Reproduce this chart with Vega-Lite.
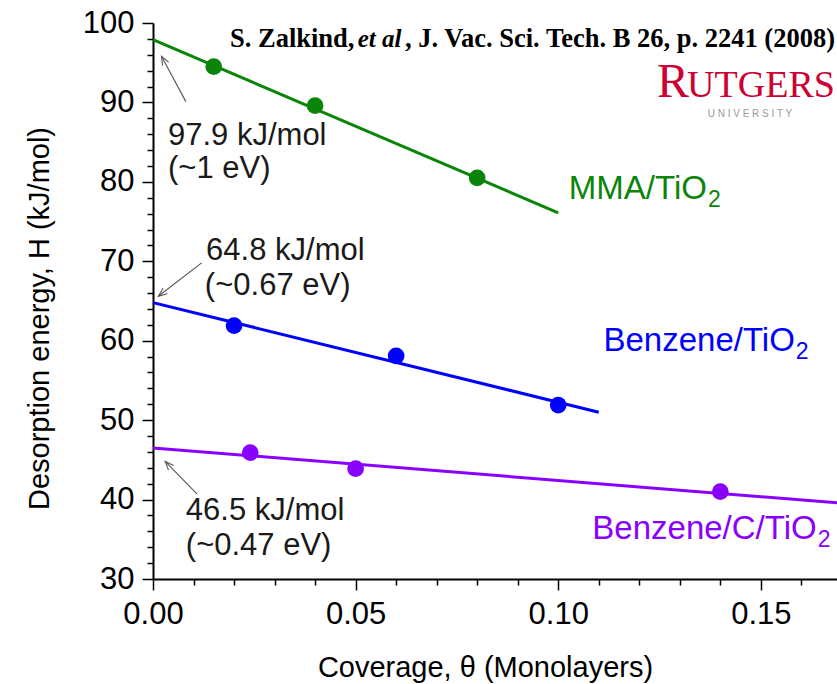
{
  "$schema": "https://vega.github.io/schema/vega-lite/v6.json",
  "width": 684,
  "height": 556,
  "autosize": "none",
  "padding": {"left": 153, "top": 23, "right": 0, "bottom": 105},
  "background": "white",
  "config": {"view": {"stroke": null}, "font": "Liberation Sans"},
  "resolve": {"axis": {"x": "independent", "y": "independent"}},
  "datasets": {
    "fits": [
      {"series": "MMA/TiO2", "coverage": 0, "energy": 97.9},
      {"series": "MMA/TiO2", "coverage": 0.1, "energy": 76.1},
      {"series": "Benzene/TiO2", "coverage": 0, "energy": 64.8},
      {"series": "Benzene/TiO2", "coverage": 0.11, "energy": 51.0},
      {"series": "Benzene/C/TiO2", "coverage": 0, "energy": 46.5},
      {"series": "Benzene/C/TiO2", "coverage": 0.1688, "energy": 39.6}
    ],
    "points": [
      {"series": "MMA/TiO2", "coverage": 0.015, "energy": 94.5},
      {"series": "MMA/TiO2", "coverage": 0.04, "energy": 89.6},
      {"series": "MMA/TiO2", "coverage": 0.08, "energy": 80.5},
      {"series": "Benzene/TiO2", "coverage": 0.02, "energy": 61.9},
      {"series": "Benzene/TiO2", "coverage": 0.06, "energy": 58.1},
      {"series": "Benzene/TiO2", "coverage": 0.1, "energy": 51.9},
      {"series": "Benzene/C/TiO2", "coverage": 0.024, "energy": 45.9},
      {"series": "Benzene/C/TiO2", "coverage": 0.05, "energy": 43.9},
      {"series": "Benzene/C/TiO2", "coverage": 0.14, "energy": 41.0}
    ],
    "notes": [
      {"text": "97.9 kJ/mol", "coverage": 0.0037, "energy": 84.7},
      {"text": "(~1 eV)", "coverage": 0.0037, "energy": 80.5},
      {"text": "64.8 kJ/mol", "coverage": 0.0131, "energy": 70.2},
      {"text": "(~0.67 eV)", "coverage": 0.0128, "energy": 65.7},
      {"text": "46.5 kJ/mol", "coverage": 0.0081, "energy": 37.4},
      {"text": "(~0.47 eV)", "coverage": 0.0081, "energy": 33.0}
    ],
    "arrows": [
      {"coverage": 0.0081, "energy": 90.1, "coverage2": 0.0021, "energy2": 95.8, "angle": 331.6},
      {"coverage": 0.012, "energy": 69.8, "coverage2": 0.0013, "energy2": 65.6, "angle": 232.8},
      {"coverage": 0.0109, "energy": 40.7, "coverage2": 0.003, "energy2": 44.8, "angle": 317}
    ],
    "species": [
      {"series": "MMA/TiO2", "label": "MMA/TiO", "sub": "2", "coverage": 0.1367, "energy": 77.9},
      {"series": "Benzene/TiO2", "label": "Benzene/TiO", "sub": "2", "coverage": 0.1584, "energy": 58.7},
      {"series": "Benzene/C/TiO2", "label": "Benzene/C/TiO", "sub": "2", "coverage": 0.1638, "energy": 35.0}
    ]
  },
  "layer": [
    {
      "data": {"name": "fits"},
      "mark": {"type": "line", "strokeWidth": 3},
      "encoding": {
        "x": {
          "field": "coverage", "type": "quantitative",
          "scale": {"domain": [0, 0.1688], "nice": false, "zero": false},
          "axis": {
            "orient": "bottom",
            "title": "Coverage, θ (Monolayers)",
            "values": [0, 0.05, 0.1, 0.15],
            "format": ".2f",
            "tickSize": 11,
            "labelOverlap": false,
            "labelFlush": false,
            "grid": false,
            "domainColor": "black",
            "domainWidth": 2,
            "tickColor": "black",
            "tickWidth": 1.5,
            "labelFont": "Liberation Sans",
            "labelFontSize": 31,
            "labelColor": "black",
            "labelPadding": 9,
            "titleFont": "Liberation Sans",
            "titleFontSize": 29,
            "titleFontWeight": "normal",
            "titleColor": "black",
            "titleX": 332,
            "titleY": 88,
            "titleBaseline": "middle"
          }
        },
        "y": {
          "field": "energy", "type": "quantitative",
          "scale": {"domain": [30, 100], "nice": false, "zero": false},
          "axis": {
            "orient": "left",
            "title": "Desorption energy, H (kJ/mol)",
            "values": [30, 40, 50, 60, 70, 80, 90, 100],
            "format": "d",
            "tickSize": 11,
            "labelOverlap": false,
            "labelFlush": false,
            "grid": false,
            "domainColor": "black",
            "domainWidth": 2,
            "tickColor": "black",
            "tickWidth": 1.5,
            "labelFont": "Liberation Sans",
            "labelFontSize": 31,
            "labelColor": "black",
            "labelPadding": 8,
            "titleFont": "Liberation Sans",
            "titleFontSize": 29,
            "titleFontWeight": "normal",
            "titleColor": "black",
            "titleX": -114,
            "titleY": 295,
            "titleBaseline": "middle",
            "titleAlign": "center"
          }
        },
        "color": {
          "field": "series", "type": "nominal",
          "scale": {"domain": ["MMA/TiO2", "Benzene/TiO2", "Benzene/C/TiO2"], "range": ["#0a850a", "#0000ff", "#8a00ff"]},
          "legend": null
        }
      }
    },
    {
      "data": {"name": "points"},
      "mark": {"type": "circle", "size": 280, "opacity": 1},
      "encoding": {
        "x": {
          "field": "coverage", "type": "quantitative",
          "axis": {
            "orient": "bottom",
            "title": null,
            "values": [0.01, 0.02, 0.03, 0.04, 0.06, 0.07, 0.08, 0.09, 0.11, 0.12, 0.13, 0.14, 0.16],
            "tickCount": 100,
            "labels": false,
            "domain": false,
            "grid": false,
            "ticks": true,
            "tickSize": 6,
            "tickColor": "black",
            "tickWidth": 1.5
          }
        },
        "y": {
          "field": "energy", "type": "quantitative",
          "axis": {
            "orient": "left",
            "title": null,
            "values": [32, 34, 36, 38, 42, 44, 46, 48, 52, 54, 56, 58, 62, 64, 66, 68, 72, 74, 76, 78, 82, 84, 86, 88, 92, 94, 96, 98],
            "tickCount": 100,
            "labels": false,
            "domain": false,
            "grid": false,
            "ticks": true,
            "tickSize": 6,
            "tickColor": "black",
            "tickWidth": 1.5
          }
        },
        "color": {"field": "series", "type": "nominal"}
      }
    },
    {
      "mark": {"type": "rule", "color": "black", "strokeWidth": 2},
      "encoding": {"y": {"datum": 100, "axis": null}}
    },
    {
      "mark": {"type": "rule", "color": "#c0c0c0", "strokeWidth": 1.5, "clip": false},
      "encoding": {"y": {"datum": 102.2, "axis": null}, "x": {"datum": -0.0353, "axis": null}, "x2": {"datum": 0.1688}}
    },
    {
      "mark": {"type": "rule", "color": "#c0c0c0", "strokeWidth": 1.5, "clip": false},
      "encoding": {"x": {"datum": -0.0353, "axis": null}, "y": {"datum": 102.2, "axis": null}, "y2": {"datum": 16.5}}
    },
    {
      "data": {"name": "arrows"},
      "mark": {"type": "rule", "color": "#555555", "strokeWidth": 1.1},
      "encoding": {
        "x": {"field": "coverage", "type": "quantitative", "axis": null},
        "y": {"field": "energy", "type": "quantitative", "axis": null},
        "x2": {"field": "coverage2"},
        "y2": {"field": "energy2"}
      }
    },
    {
      "data": {"name": "arrows"},
      "mark": {"type": "point", "shape": "M -0.4 1 L 0 0 L 0.4 1", "filled": false, "size": 300, "color": "#555555", "strokeWidth": 1.1, "opacity": 1},
      "encoding": {
        "x": {"field": "coverage2", "type": "quantitative", "axis": null},
        "y": {"field": "energy2", "type": "quantitative", "axis": null},
        "angle": {"field": "angle", "type": "quantitative", "scale": null}
      }
    },
    {
      "data": {"name": "notes"},
      "mark": {"type": "text", "align": "left", "baseline": "alphabetic", "fontSize": 31, "font": "Liberation Sans", "color": "#1a1a1a"},
      "encoding": {
        "x": {"field": "coverage", "type": "quantitative", "axis": null},
        "y": {"field": "energy", "type": "quantitative", "axis": null},
        "text": {"field": "text"}
      }
    },
    {
      "data": {"name": "species"},
      "mark": {"type": "text", "align": "right", "baseline": "alphabetic", "fontSize": 33, "font": "Liberation Sans"},
      "encoding": {
        "x": {"field": "coverage", "type": "quantitative", "axis": null},
        "y": {"field": "energy", "type": "quantitative", "axis": null},
        "text": {"field": "label"},
        "color": {"field": "series", "type": "nominal"}
      }
    },
    {
      "data": {"name": "species"},
      "mark": {"type": "text", "align": "left", "baseline": "alphabetic", "fontSize": 23, "font": "Liberation Sans", "dx": 1, "dy": 8},
      "encoding": {
        "x": {"field": "coverage", "type": "quantitative", "axis": null},
        "y": {"field": "energy", "type": "quantitative", "axis": null},
        "text": {"field": "sub"},
        "color": {"field": "series", "type": "nominal"}
      }
    },
    {
      "data": {"values": [
        {"text": "S. Zalkind,", "coverage": 0.019, "energy": 97.04}
      ]},
      "mark": {"type": "text", "align": "left", "baseline": "alphabetic", "fontSize": 26.5, "font": "Liberation Serif", "fontWeight": "bold", "color": "black"},
      "encoding": {
        "x": {"field": "coverage", "type": "quantitative", "axis": null},
        "y": {"field": "energy", "type": "quantitative", "axis": null},
        "text": {"field": "text"}
      }
    },
    {
      "data": {"values": [
        {"text": "et al", "coverage": 0.0505, "energy": 97.04}
      ]},
      "mark": {"type": "text", "align": "left", "baseline": "alphabetic", "fontSize": 25, "font": "Liberation Serif", "fontWeight": "bold", "fontStyle": "italic", "color": "black"},
      "encoding": {
        "x": {"field": "coverage", "type": "quantitative", "axis": null},
        "y": {"field": "energy", "type": "quantitative", "axis": null},
        "text": {"field": "text"}
      }
    },
    {
      "data": {"values": [
        {"text": ", J. Vac. Sci. Tech. B 26, p. 2241 (2008)", "coverage": 0.1683, "energy": 97.04}
      ]},
      "mark": {"type": "text", "align": "right", "baseline": "alphabetic", "fontSize": 26.5, "font": "Liberation Serif", "fontWeight": "bold", "color": "black"},
      "encoding": {
        "x": {"field": "coverage", "type": "quantitative", "axis": null},
        "y": {"field": "energy", "type": "quantitative", "axis": null},
        "text": {"field": "text"}
      }
    },
    {
      "data": {"values": [
        {"text": "R", "coverage": 0.1244, "energy": 90.7}
      ]},
      "mark": {"type": "text", "align": "left", "baseline": "alphabetic", "fontSize": 48, "font": "Liberation Serif", "color": "#cc0033"},
      "encoding": {
        "x": {"field": "coverage", "type": "quantitative", "axis": null},
        "y": {"field": "energy", "type": "quantitative", "axis": null},
        "text": {"field": "text"}
      }
    },
    {
      "data": {"values": [
        {"text": "UTGERS", "coverage": 0.1318, "energy": 90.7}
      ]},
      "mark": {"type": "text", "align": "left", "baseline": "alphabetic", "fontSize": 38, "font": "Liberation Serif", "color": "#cc0033"},
      "encoding": {
        "x": {"field": "coverage", "type": "quantitative", "axis": null},
        "y": {"field": "energy", "type": "quantitative", "axis": null},
        "text": {"field": "text"}
      }
    },
    {
      "data": {"values": [
        {"text": "U N I V E R S I T Y", "coverage": 0.1473, "energy": 88.2}
      ]},
      "mark": {"type": "text", "align": "center", "baseline": "alphabetic", "fontSize": 10, "font": "Liberation Sans", "color": "#9a9a9a"},
      "encoding": {
        "x": {"field": "coverage", "type": "quantitative", "axis": null},
        "y": {"field": "energy", "type": "quantitative", "axis": null},
        "text": {"field": "text"}
      }
    }
  ]
}
